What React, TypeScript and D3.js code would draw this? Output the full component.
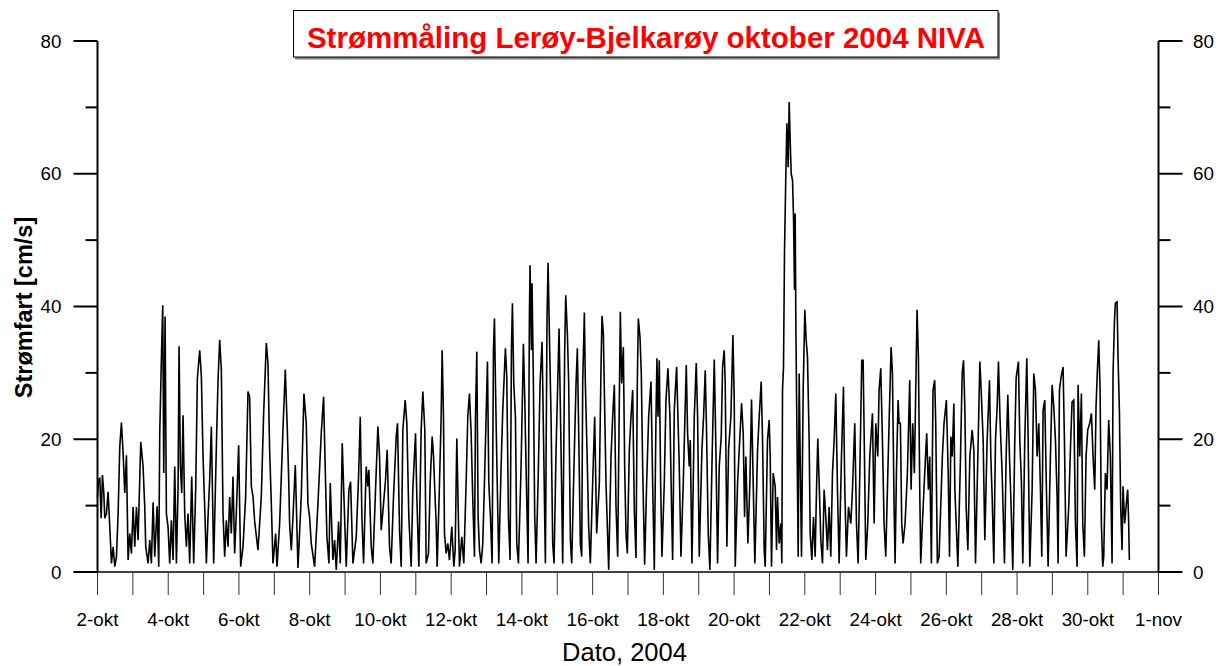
import React from 'react';
import * as d3 from 'd3';

// Current speed (cm/s) vs. day of October 2004 (decimal day; 32 = 1-nov)
const oct02to06: [number, number][] = [
  [2.000,11.3],[2.027,13.9],[2.065,14.1],[2.103,8.1],[2.140,14.6],[2.178,11.9],[2.206,8.1],[2.253,8.8],[2.300,12.1],[2.347,6.8],[2.395,1.3],[2.442,3.8],[2.489,0.8],[2.536,2.3],[2.583,8.8],[2.630,18.9],[2.677,22.5],[2.724,17.9],[2.771,11.9],[2.818,17.6],[2.865,1.8],[2.912,5.8],[2.959,2.8],[3.007,9.8],[3.054,3.8],[3.101,9.8],[3.148,4.8],[3.223,19.6],[3.289,15.9],[3.336,9.8],[3.364,3.8],[3.430,1.3],[3.477,4.8],[3.524,1.3],[3.572,10.5],[3.619,2.3],[3.685,9.9],[3.732,0.8],[3.760,20.9],[3.807,32.2],[3.845,40.2],[3.873,14.9],[3.911,38.5],[3.948,8.8],[3.995,6.8],[4.042,1.3],[4.089,7.8],[4.137,1.8],[4.184,15.9],[4.231,1.3],[4.278,12.6],[4.306,34.0],[4.344,15.9],[4.381,11.9],[4.419,23.6],[4.466,8.8],[4.513,3.8],[4.560,8.8],[4.607,1.3],[4.664,14.4],[4.720,1.3],[4.777,12.6],[4.824,29.2],[4.890,33.4],[4.937,29.4],[4.984,17.4],[5.031,9.8],[5.078,1.3],[5.125,8.3],[5.172,13.9],[5.219,21.9],[5.285,1.3],[5.361,18.9],[5.408,28.9],[5.455,35.0],[5.502,30.4],[5.549,8.8],[5.596,2.3],[5.643,7.8],[5.690,3.8],[5.737,11.3],[5.784,5.8],[5.831,14.4],[5.878,2.8],[5.925,8.8],[5.991,19.1],[6.048,0.8],[6.114,3.8],[6.189,11.3],[6.255,27.2],
];
const oct06to11: [number, number][] = [
  [6.302,26.4],[6.350,12.9],[6.397,11.4],[6.444,7.6],[6.538,3.3],[6.632,11.4],[6.698,23.9],[6.773,34.5],[6.820,31.4],[6.867,18.4],[6.915,10.3],[6.962,1.3],[7.037,5.8],[7.075,0.8],[7.150,7.3],[7.244,21.4],[7.310,30.5],[7.367,21.4],[7.404,14.4],[7.432,7.3],[7.480,3.3],[7.527,8.3],[7.593,16.1],[7.668,0.6],[7.762,11.4],[7.837,26.9],[7.903,22.4],[7.950,10.3],[7.997,8.3],[8.044,4.3],[8.139,0.8],[8.233,10.3],[8.327,20.9],[8.393,26.4],[8.440,15.4],[8.487,5.3],[8.544,1.3],[8.581,13.4],[8.656,1.8],[8.704,4.8],[8.751,0.3],[8.788,4.3],[8.817,7.6],[8.864,1.3],[8.920,19.4],[8.986,8.3],[9.033,0.8],[9.109,12.4],[9.156,13.6],[9.222,1.3],[9.316,5.3],[9.382,14.4],[9.429,23.4],[9.476,8.3],[9.523,1.3],[9.598,15.9],[9.645,12.9],[9.673,15.4],[9.739,3.8],[9.786,1.3],[9.862,12.4],[9.928,21.9],[9.975,17.4],[10.022,6.3],[10.088,10.3],[10.144,13.9],[10.191,18.4],[10.257,3.8],[10.304,1.3],[10.370,11.4],[10.446,20.4],[10.483,22.4],[10.540,6.3],[10.587,0.8],[10.634,21.4],[10.700,25.9],[10.747,22.4],[10.803,8.3],[10.869,0.8],[10.916,12.4],[10.992,20.9],[11.029,11.4],[11.086,0.8],[11.152,21.4],[11.199,27.2],[11.255,21.4],[11.293,1.3],[11.359,2.8],
];
const oct11to16: [number, number][] = [
  [11.406,13.4],[11.463,20.4],[11.501,17.4],[11.529,13.4],[11.576,7.3],[11.604,0.8],[11.670,13.4],[11.717,23.4],[11.745,33.4],[11.783,23.4],[11.811,5.8],[11.858,2.8],[11.905,4.3],[11.952,1.8],[12.018,6.8],[12.075,0.8],[12.113,3.3],[12.160,20.1],[12.207,7.3],[12.235,0.8],[12.301,5.3],[12.357,1.3],[12.423,13.4],[12.470,23.4],[12.517,26.9],[12.565,20.9],[12.612,10.8],[12.659,2.3],[12.687,23.4],[12.725,33.2],[12.762,8.3],[12.800,3.3],[12.847,1.3],[12.894,4.3],[12.941,13.4],[12.988,23.4],[13.026,31.7],[13.064,13.4],[13.111,8.3],[13.158,1.3],[13.195,33.4],[13.224,38.2],[13.252,28.4],[13.290,16.9],[13.346,1.3],[13.412,15.9],[13.459,24.4],[13.534,33.7],[13.572,29.4],[13.619,8.3],[13.666,1.8],[13.704,33.4],[13.732,40.5],[13.770,28.4],[13.817,23.4],[13.855,4.3],[13.902,1.3],[13.977,15.9],[14.043,34.4],[14.081,25.9],[14.137,10.8],[14.175,1.3],[14.212,38.5],[14.231,46.2],[14.269,33.4],[14.288,43.5],[14.325,28.4],[14.363,8.3],[14.401,1.3],[14.457,13.4],[14.514,28.4],[14.570,34.7],[14.617,18.4],[14.664,1.3],[14.711,38.5],[14.740,46.6],[14.777,35.9],[14.824,23.4],[14.871,4.3],[14.909,1.3],[14.966,18.4],[15.013,28.4],[15.050,36.7],[15.107,18.4],[15.154,1.3],[15.210,33.4],[15.239,41.7],[15.286,35.9],[15.323,28.4],[15.371,4.8],[15.408,1.3],[15.484,18.4],[15.531,28.4],[15.568,33.7],[15.606,20.9],[15.653,4.3],[15.691,2.3],[15.719,28.4],[15.766,39.1],[15.794,28.4],[15.841,18.4],[15.888,6.8],[15.935,1.3],[16.001,13.4],[16.058,23.4],[16.114,5.8],[16.190,13.4],[16.237,30.9],[16.265,38.6],
];
const oct16to21: [number, number][] = [
  [16.303,35.9],[16.331,27.4],[16.378,13.4],[16.425,5.3],[16.454,0.3],[16.520,17.4],[16.567,23.4],[16.614,28.2],[16.661,9.8],[16.708,2.3],[16.755,25.9],[16.783,39.2],[16.821,28.4],[16.868,33.9],[16.906,15.9],[16.943,5.8],[16.981,2.8],[17.037,18.4],[17.085,23.4],[17.132,27.4],[17.179,9.3],[17.226,2.1],[17.263,28.4],[17.292,38.2],[17.339,35.4],[17.376,29.9],[17.414,15.9],[17.471,1.1],[17.527,13.4],[17.584,23.4],[17.650,28.7],[17.697,13.4],[17.744,0.3],[17.791,23.4],[17.819,32.2],[17.847,23.4],[17.885,31.9],[17.923,13.4],[17.960,2.3],[18.026,13.4],[18.073,25.9],[18.130,30.7],[18.186,23.4],[18.233,9.3],[18.262,1.8],[18.309,24.4],[18.375,30.9],[18.412,23.4],[18.450,15.9],[18.497,2.3],[18.563,13.4],[18.610,23.4],[18.648,31.2],[18.685,20.9],[18.732,15.9],[18.761,19.9],[18.808,1.3],[18.874,23.4],[18.930,31.5],[18.968,23.4],[19.015,2.3],[19.090,18.4],[19.137,23.4],[19.184,30.4],[19.222,20.9],[19.269,5.8],[19.316,0.3],[19.373,15.9],[19.439,32.0],[19.486,18.4],[19.533,1.3],[19.580,15.9],[19.636,20.4],[19.674,30.9],[19.721,33.4],[19.749,28.4],[19.796,3.8],[19.843,18.4],[19.909,23.4],[19.966,35.7],[20.004,25.9],[20.032,0.8],[20.098,13.4],[20.145,18.4],[20.211,25.4],[20.258,20.9],[20.296,8.3],[20.333,17.4],[20.390,4.3],[20.446,13.4],[20.493,26.0],[20.540,13.4],[20.587,1.3],[20.663,18.4],[20.710,23.4],[20.766,28.7],
];
const oct21to26: [number, number][] = [
  [20.804,19.9],[20.851,3.3],[20.879,0.8],[20.945,19.9],[20.992,22.9],[21.021,17.4],[21.058,0.8],[21.105,14.9],[21.162,12.9],[21.200,3.3],[21.228,11.3],[21.275,4.3],[21.322,7.3],[21.350,1.3],[21.369,27.4],[21.397,30.9],[21.426,48.5],[21.463,60.0],[21.492,67.6],[21.529,61.0],[21.557,70.8],[21.586,65.1],[21.614,60.0],[21.652,59.0],[21.680,53.5],[21.708,42.5],[21.727,54.0],[21.746,37.5],[21.774,22.4],[21.812,2.3],[21.840,29.9],[21.868,17.4],[21.906,2.3],[21.953,27.4],[22.000,39.5],[22.038,35.0],[22.075,32.4],[22.122,19.9],[22.151,5.8],[22.198,1.8],[22.245,8.3],[22.292,2.3],[22.330,12.4],[22.367,20.1],[22.405,13.4],[22.452,4.8],[22.499,1.3],[22.546,12.4],[22.593,8.3],[22.640,3.3],[22.687,9.8],[22.734,2.3],[22.782,14.9],[22.829,19.9],[22.876,26.9],[22.923,12.4],[22.970,1.3],[23.036,17.4],[23.092,27.9],[23.130,12.4],[23.177,2.3],[23.234,9.8],[23.300,7.3],[23.347,12.4],[23.412,22.4],[23.460,7.3],[23.507,1.3],[23.563,17.4],[23.610,31.9],[23.648,31.9],[23.686,17.4],[23.723,1.8],[23.780,7.3],[23.836,17.4],[23.912,23.9],[23.959,7.3],[24.006,22.4],[24.062,17.4],[24.100,27.4],[24.147,30.7],[24.194,19.9],[24.241,7.3],[24.288,2.3],[24.335,12.4],[24.382,22.4],[24.439,33.9],[24.477,29.9],[24.524,9.8],[24.552,1.3],[24.590,14.9],[24.637,25.9],[24.665,22.4],[24.702,22.4],[24.740,7.3],[24.778,4.3],[24.834,7.3],[24.900,14.9],[24.966,28.9],[25.004,12.4],[25.051,22.4],[25.098,14.9],[25.136,27.4],[25.173,39.5],[25.211,32.4],[25.249,12.4],[25.277,1.3],[25.324,7.3],[25.390,14.9],[25.446,20.9],[25.493,12.4],[25.531,17.4],[25.578,1.3],[25.625,27.4],[25.672,28.9],[25.701,22.4],[25.748,1.3],[25.795,2.3],[25.842,9.8],[25.889,17.4],[25.936,22.4],[26.002,25.9],
];
const oct26to31: [number, number][] = [
  [26.054,14.9],[26.091,2.3],[26.129,20.4],[26.167,17.4],[26.214,25.4],[26.242,12.4],[26.280,7.3],[26.327,0.8],[26.402,17.4],[26.449,29.9],[26.487,31.9],[26.524,24.9],[26.562,9.8],[26.609,3.3],[26.666,17.4],[26.732,21.4],[26.779,18.4],[26.826,1.3],[26.892,17.4],[26.948,31.7],[26.986,27.4],[27.042,19.9],[27.089,4.8],[27.155,19.9],[27.221,28.9],[27.259,17.4],[27.297,11.3],[27.344,1.3],[27.391,19.9],[27.438,24.9],[27.475,31.7],[27.523,22.4],[27.579,14.9],[27.645,1.3],[27.692,17.4],[27.739,26.7],[27.786,17.4],[27.833,9.8],[27.880,0.3],[27.937,19.9],[27.975,29.2],[28.040,31.7],[28.078,19.9],[28.125,13.4],[28.163,1.3],[28.219,19.9],[28.276,32.2],[28.314,19.9],[28.361,0.8],[28.427,12.4],[28.474,29.9],[28.521,27.4],[28.568,17.4],[28.615,22.4],[28.662,12.4],[28.700,2.3],[28.737,24.4],[28.784,25.9],[28.831,12.4],[28.879,0.8],[28.944,17.4],[28.992,28.2],[29.039,24.9],[29.086,19.9],[29.133,11.3],[29.161,1.3],[29.199,27.4],[29.246,29.4],[29.302,30.9],[29.340,19.9],[29.387,2.3],[29.462,9.8],[29.509,18.4],[29.556,25.6],[29.604,25.9],[29.651,7.3],[29.698,0.8],[29.726,28.2],[29.773,17.4],[29.820,26.9],[29.858,7.3],[29.905,2.3],[29.952,17.4],[29.999,21.4],[30.056,22.4],[30.103,23.9],[30.150,17.4],[30.197,12.4],[30.234,24.9],[30.272,30.4],[30.310,34.9],[30.348,27.4],[30.385,7.3],[30.423,0.8],[30.451,2.3],[30.498,14.9],[30.545,12.4],[30.592,22.9],[30.639,17.4],[30.687,1.3],[30.715,29.9],[30.752,37.4],[30.780,40.5],[30.828,40.7],[30.856,32.4],[30.894,24.4],[30.931,9.8],[30.969,3.3],[30.997,12.9],[31.044,7.3],[31.091,10.3],[31.129,12.4],[31.157,7.3],[31.176,1.8],
];

const yMajorTicks = [0, 20, 40, 60, 80];
const yMinorTicks = [10, 30, 50, 70];
const dayTicks = d3.range(2, 33);
const dayLabelTicks = d3.range(2, 33, 2);
const dayLabel = (d: number) => (d <= 31 ? `${d}-okt` : `${d - 31}-nov`);

const titleText = 'Strømmåling Lerøy-Bjelkarøy oktober 2004 NIVA';
const xTitle = 'Dato, 2004';
const yTitle = 'Strømfart [cm/s]';

const FONT = '"Liberation Sans", Arial, Helvetica, sans-serif';

export default function App() {
  const W = 1226;
  const H = 666;
  const data = [...oct02to06, ...oct06to11, ...oct11to16, ...oct16to21, ...oct21to26, ...oct26to31];
  const x = d3.scaleLinear().domain([2, 32]).range([97.5, 1158.5]);
  const y = d3.scaleLinear().domain([0, 80]).range([572, 41]);
  const line = d3.line<[number, number]>().x(d => x(d[0])).y(d => y(d[1]));
  const xL = x(2);
  const xR = x(32);

  return (
    <div style={{ position: 'absolute', left: 0, top: 0 }}>
      <svg width={W} height={H} viewBox={`0 0 ${W} ${H}`} style={{ display: 'block', background: '#fff' }} fontFamily={FONT}>
        <rect x={0} y={0} width={W} height={H} fill="#fff" />
        {/* data */}
        <path d={line(data) || ''} fill="none" stroke="#000" strokeWidth={1.6} strokeLinejoin="miter" strokeMiterlimit={3} />

        {/* x axis */}
        <line x1={xL - 24} x2={xR} y1={y(0)} y2={y(0)} stroke="#000" strokeWidth={1.5} />
        {dayTicks.map(d => (
          <line key={'xt' + d} x1={x(d)} x2={x(d)} y1={y(0)} y2={y(0) + 23} stroke="#333" strokeWidth={1} />
        ))}
        {dayLabelTicks.map(d => (
          <text key={'xl' + d} x={x(d)} y={626} fontSize={18.8} textAnchor="middle" fill="#000">
            {dayLabel(d)}
          </text>
        ))}
        <text x={624.5} y={661} fontSize={25.5} textAnchor="middle" fill="#000">{xTitle}</text>

        {/* left axis */}
        <line x1={xL} x2={xL} y1={y(80)} y2={y(0)} stroke="#000" strokeWidth={2} />
        {yMajorTicks.map(v => (
          <line key={'lM' + v} x1={xL - 24} x2={xL} y1={y(v)} y2={y(v)} stroke="#000" strokeWidth={2} />
        ))}
        {yMinorTicks.map(v => (
          <line key={'lm' + v} x1={xL - 12} x2={xL} y1={y(v)} y2={y(v)} stroke="#000" strokeWidth={2} />
        ))}
        {yMajorTicks.map(v => (
          <text key={'ll' + v} x={xL - 36} y={y(v) + 6.7} fontSize={18.8} textAnchor="end" fill="#000">{v}</text>
        ))}

        {/* right axis */}
        <line x1={xR} x2={xR} y1={y(80)} y2={y(0)} stroke="#000" strokeWidth={2} />
        {yMajorTicks.map(v => (
          <line key={'rM' + v} x1={xR} x2={xR + 24} y1={y(v)} y2={y(v)} stroke="#000" strokeWidth={2} />
        ))}
        {yMinorTicks.map(v => (
          <line key={'rm' + v} x1={xR} x2={xR + 12} y1={y(v)} y2={y(v)} stroke="#000" strokeWidth={2} />
        ))}
        {yMajorTicks.map(v => (
          <text key={'rl' + v} x={xR + 34.5} y={y(v) + 6.7} fontSize={18.8} textAnchor="start" fill="#000">{v}</text>
        ))}

        {/* y title */}
        <text transform="translate(32.3,307.5) rotate(-90)" fontSize={23.5} fontWeight="bold" textAnchor="middle" fill="#000">
          {yTitle}
        </text>

        {/* title box */}
        <rect x={295} y={12.5} width={705} height={47} fill="#808080" />
        <rect x={293.5} y={10.5} width={704.5} height={46.5} fill="#fff" stroke="#000" strokeWidth={1} />
        <text x={646} y={48.3} fontSize={29.5} fontWeight="bold" textAnchor="middle" fill="#ff0000">
          {titleText}
        </text>
      </svg>
    </div>
  );
}
